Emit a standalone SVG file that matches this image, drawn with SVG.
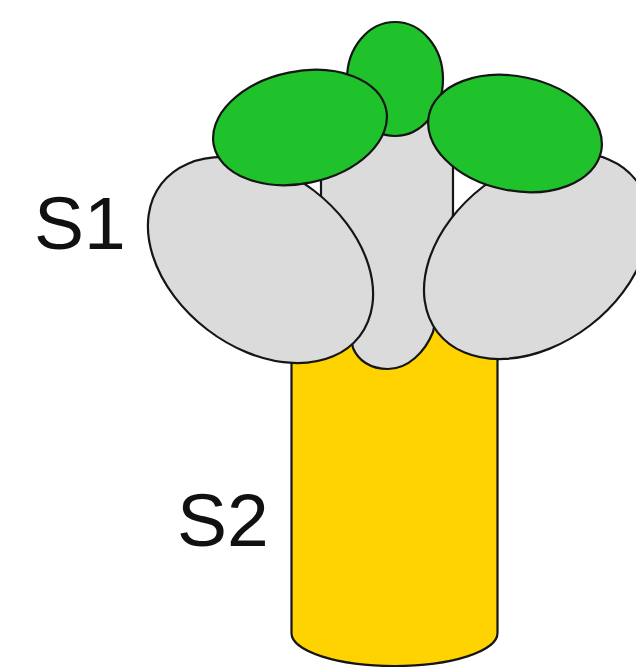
<svg xmlns="http://www.w3.org/2000/svg" width="636" height="668" viewBox="0 0 636 668">
<style>
.shape{stroke:#151515;stroke-width:2.2}
.grey{fill:#dbdbdb}
.green{fill:#1fc22a}
.yellow{fill:#ffd300}
.label{font-family:"Liberation Sans",Arial,sans-serif;font-size:75px;fill:#111}
</style>
<rect width="636" height="668" fill="#ffffff"/>
<g id="s2-stalk">
<path class="shape yellow" d="M291.5,320 V633 A103,33 0 0 0 497.5,633 V320 Z"/>
</g>
<g id="center-grey">
<path class="shape grey" d="M321,100 L321,197 C325,240 345,300 353,348 C358,360 370,369 388,369 C408,369 425,352 433,332 C440,300 450,270 453,213 L453,100 Z"/>
</g>
<g id="left-grey">
<ellipse class="shape grey" cx="260.5" cy="260" rx="125" ry="87.6" transform="rotate(37.5 260.5 260)"/>
</g>
<g id="right-grey">
<ellipse class="shape grey" cx="536.6" cy="256" rx="125" ry="87.6" transform="rotate(-37.5 536.6 256)"/>
</g>
<g id="top-green">
<ellipse class="shape green" cx="395" cy="79" rx="48" ry="57"/>
</g>
<g id="left-green">
<ellipse class="shape green" cx="300" cy="127.5" rx="88" ry="56" transform="rotate(-11.6 300 127.5)"/>
</g>
<g id="right-green">
<ellipse class="shape green" cx="515" cy="133.5" rx="88" ry="57" transform="rotate(12 515 133.5)"/>
</g>
<g id="connectors"></g>
<g id="label-s1"><text class="label" x="34" y="249">S1</text></g>
<g id="label-s2"><text class="label" x="177" y="546">S2</text></g>
</svg>
